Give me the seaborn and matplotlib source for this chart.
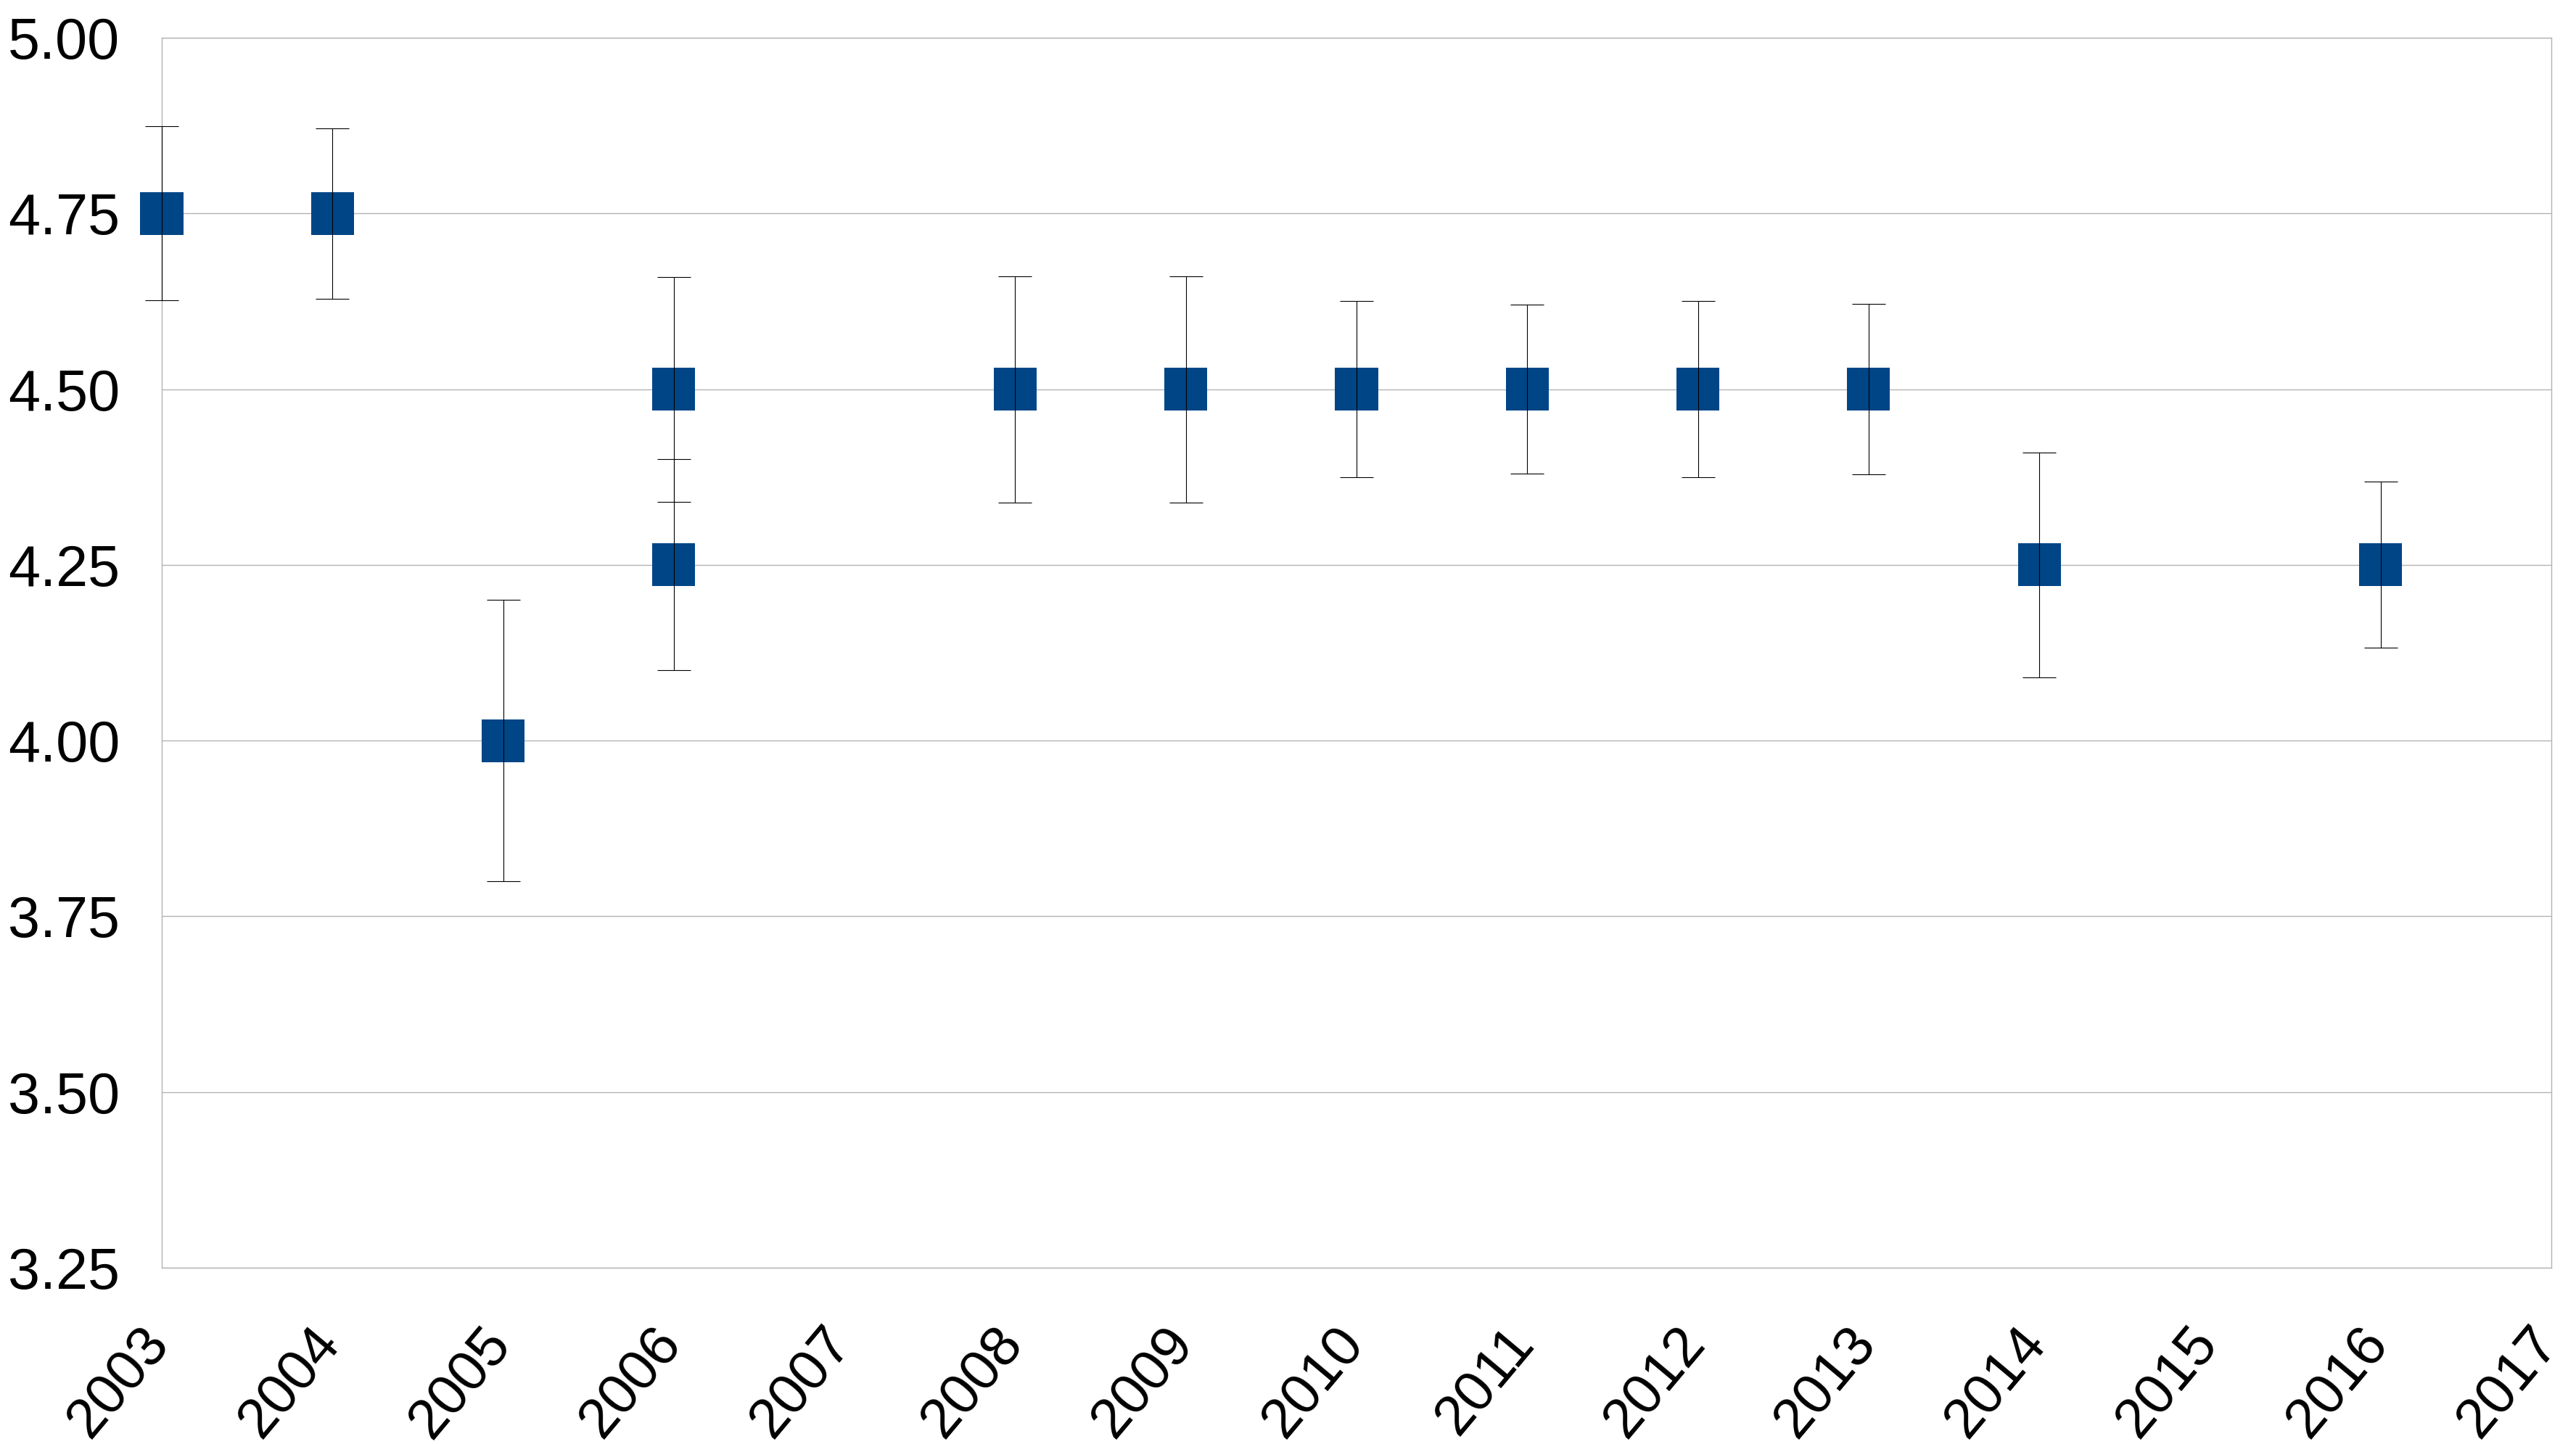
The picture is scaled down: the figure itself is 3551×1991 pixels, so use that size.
import matplotlib
matplotlib.use("Agg")
import matplotlib.pyplot as plt
import matplotlib.transforms as mtransforms
import seaborn as sns
import pandas as pd

years = [2003, 2004, 2005, 2006, 2006, 2008, 2009, 2010, 2011, 2012, 2013, 2014, 2016]
values = [4.75, 4.75, 4.00, 4.50, 4.25, 4.50, 4.50, 4.50, 4.50, 4.50, 4.50, 4.25, 4.25]
errors = [0.124, 0.121, 0.20, 0.16, 0.15, 0.161, 0.161, 0.125, 0.12, 0.125, 0.121, 0.16, 0.118]
x_ticks = list(range(2003, 2018))
y_ticks = [3.25, 3.50, 3.75, 4.00, 4.25, 4.50, 4.75, 5.00]

sns.set_theme(style="white")
plt.rcParams['font.family'] = ['Liberation Sans', 'DejaVu Sans']

df = pd.DataFrame({"year": years, "value": values, "err": errors})

W, H, DPI = 3551, 1991, 100
fig = plt.figure(figsize=(W / DPI, H / DPI), dpi=DPI, facecolor="white")
ax = fig.add_axes([223 / W, 1 - 1748 / H, (3517 - 223) / W, (1748 - 52) / H])

grid_c = "#b3b3b3"
blue = "#004586"

sns.scatterplot(data=df, x="year", y="value", marker="s", s=42.5 ** 2,
                color=blue, edgecolor="none", linewidth=0, ax=ax,
                zorder=3, clip_on=False, legend=False)
ax.errorbar(df["year"], df["value"], yerr=df["err"], fmt="none",
            ecolor="black", elinewidth=0.8, capsize=16.9, capthick=0.8,
            zorder=4, clip_on=False)

ax.set_xlim(2003, 2017)
ax.set_ylim(3.25, 5.00)
ax.set_xticks(x_ticks)
ax.set_xticklabels([str(t) for t in x_ticks])
ax.set_yticks(y_ticks)
ax.set_yticklabels([f"{t:.2f}" for t in y_ticks])

ax.yaxis.grid(True, color=grid_c, linewidth=1.0)
ax.xaxis.grid(False)
ax.set_axisbelow(True)
for sp in ax.spines.values():
    sp.set_color(grid_c)
    sp.set_linewidth(1.0)

ax.tick_params(axis="both", which="major", direction="out", length=25,
               width=0.8, color=grid_c, labelcolor="black")
ax.tick_params(axis="y", pad=16.5, labelsize=57)
ax.tick_params(axis="x", pad=24.5, labelsize=56)
shift = mtransforms.ScaledTranslation(-32 / DPI, 0, fig.dpi_scale_trans)
for lab in ax.get_xticklabels():
    lab.set_rotation(50)
    lab.set_ha("right")
    lab.set_va("top")
    lab.set_rotation_mode("anchor")
    lab.set_transform(lab.get_transform() + shift)

ax.set_xlabel("")
ax.set_ylabel("")

fig.savefig("out.png", dpi=DPI, facecolor="white")
